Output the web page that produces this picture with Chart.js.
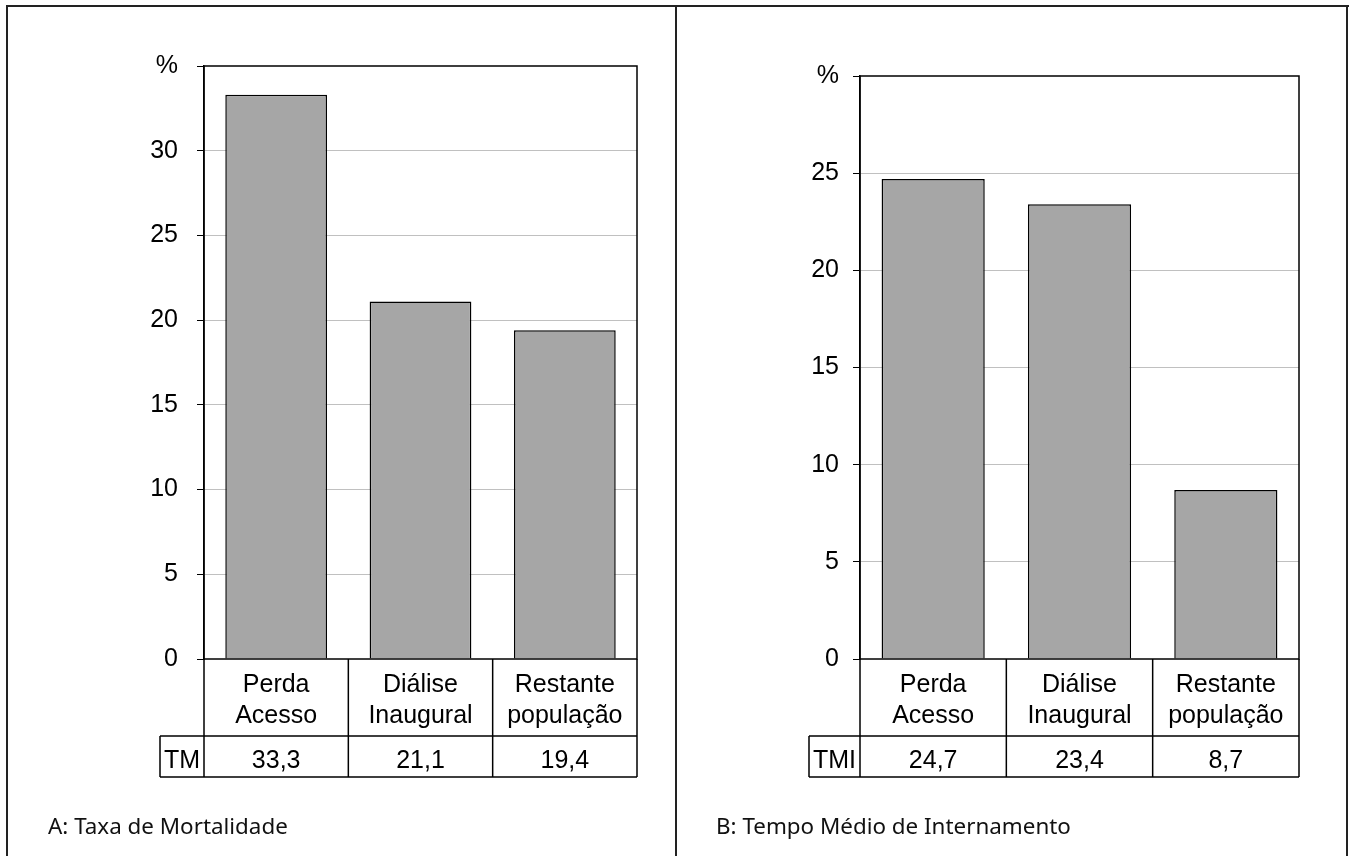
<!DOCTYPE html>
<html>
<head>
<meta charset="utf-8">
<script src="https://cdn.jsdelivr.net/npm/chart.js@4"></script>
<style>
  body { margin: 0; background: #fff; width: 1349px; height: 856px; overflow: hidden; position: relative; }
  .line { position: absolute; background: #222; }
  canvas { position: absolute; top: 0; }
  .caption { position: absolute; top: 810px; font-family: "Noto Sans", sans-serif; font-size: 22.4px; color: #111; }
</style>
</head>
<body>
<div class="line" style="left:7px;top:5px;width:1342px;height:2px"></div>
<div class="line" style="left:6px;top:5px;width:2px;height:851px"></div>
<div class="line" style="left:1346px;top:5px;width:2px;height:851px"></div>
<div class="line" style="left:675px;top:5px;width:2px;height:851px"></div>

<canvas id="chartA" width="676" height="856" style="left:0"></canvas>
<canvas id="chartB" width="672" height="856" style="left:677px"></canvas>

<div class="caption" style="left:48px">A: Taxa de Mortalidade</div>
<div class="caption" style="left:716px">B: Tempo Médio de Internamento</div>

<script>
// categories (two lines each, as in the data table)
const categories = [["Perda", "Acesso"], ["Diálise", "Inaugural"], ["Restante", "população"]];

// A: mortality rate (%)
const mortality = [33.3, 21.1, 19.4];
const mortalityLabels = ["33,3", "21,1", "19,4"];

// B: mean length of stay (%)
const stay = [24.7, 23.4, 8.7];
const stayLabels = ["24,7", "23,4", "8,7"];

const FONT = "'Liberation Sans', Arial, sans-serif";
const FONT_SIZE = 25;

// draws the frame around the plot and the data table under it
const tablePlugin = {
  id: "dataTable",
  afterDraw(chart, args, opts) {
    const ctx = chart.ctx;
    const area = chart.chartArea;
    const xs = chart.scales.x;
    const n = chart.data.labels.length;
    const half = (xs.getPixelForValue(1) - xs.getPixelForValue(0)) / 2;
    const rowTop = area.bottom + 77;
    const tableBottom = area.bottom + 118;

    ctx.save();
    ctx.strokeStyle = "#000";
    ctx.lineWidth = 1.5;
    ctx.strokeRect(area.left, area.top, area.right - area.left, area.bottom - area.top);

    ctx.beginPath();
    // vertical cell borders
    for (let i = 0; i <= n; i++) {
      const x = i === n ? area.right : xs.getPixelForValue(i) - half;
      ctx.moveTo(x, area.bottom);
      ctx.lineTo(x, tableBottom);
    }
    ctx.moveTo(opts.cellLeft, rowTop);
    ctx.lineTo(opts.cellLeft, tableBottom);
    ctx.moveTo(opts.cellLeft, rowTop);
    ctx.lineTo(area.right, rowTop);
    ctx.moveTo(opts.cellLeft, tableBottom);
    ctx.lineTo(area.right, tableBottom);
    ctx.stroke();

    ctx.fillStyle = "#000";
    ctx.font = FONT_SIZE + "px " + FONT;
    ctx.textAlign = "center";
    ctx.textBaseline = "alphabetic";
    chart.data.labels.forEach((lab, i) => {
      const x = xs.getPixelForValue(i);
      ctx.fillText(lab[0], x, area.bottom + 33);
      ctx.fillText(lab[1], x, area.bottom + 64);
      ctx.fillText(opts.values[i], x, area.bottom + 109);
    });
    ctx.fillText(opts.rowLabel, (opts.cellLeft + area.left) / 2, area.bottom + 109);
    ctx.restore();
  }
};

function makeChart(id, values, valueLabels, rowLabel, max, axisWidth, cellLeft, tickPad, padding) {
  return new Chart(document.getElementById(id), {
    type: "bar",
    data: {
      labels: categories,
      datasets: [{
        data: values,
        backgroundColor: "#a6a6a6",
        borderColor: "#000",
        borderWidth: 1.5,
        barPercentage: 1,
        categoryPercentage: 0.705
      }]
    },
    options: {
      responsive: false,
      animation: false,
      layout: { padding: padding },
      plugins: {
        legend: { display: false },
        tooltip: { enabled: false },
        dataTable: { values: valueLabels, rowLabel: rowLabel, cellLeft: cellLeft }
      },
      scales: {
        x: {
          ticks: { display: false },
          grid: { display: false },
          border: { display: false },
          afterFit: (s) => { s.height = 118; }
        },
        y: {
          min: 0,
          max: max,
          ticks: {
            stepSize: 5,
            color: "#000",
            padding: tickPad,
            font: { family: FONT, size: FONT_SIZE },
            callback: (v) => (v === max ? "%" : v)
          },
          grid: {
            color: (c) => (c.tick.value === 0 || c.tick.value === max ? "rgba(0,0,0,0)" : "#c0c0c0"),
            tickColor: "#000",
            tickLength: 7,
            lineWidth: 1
          },
          border: { color: "#000", width: 1.5 },
          afterFit: (s) => { s.width = axisWidth; }
        }
      }
    },
    plugins: [tablePlugin]
  });
}

makeChart("chartA", mortality, mortalityLabels, "TM", 35, 204, 160, 19,
  { top: 66, right: 39, bottom: 79, left: 0 });
makeChart("chartB", stay, stayLabels, "TMI", 30, 183, 809 - 677, 14,
  { top: 76, right: 50, bottom: 79, left: 0 });
</script>
</body>
</html>
